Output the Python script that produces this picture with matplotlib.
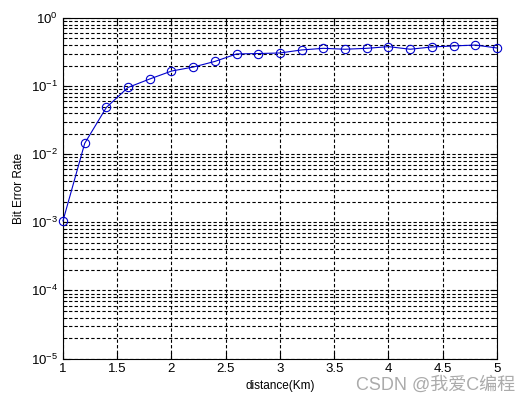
import numpy as np
import matplotlib
matplotlib.use("Agg")
import matplotlib.pyplot as plt
from matplotlib.ticker import LogLocator, FixedLocator, NullFormatter

plt.rcParams['font.family'] = ['Liberation Sans', 'Noto Sans CJK SC', 'DejaVu Sans']
plt.rcParams['mathtext.fontset'] = 'custom'
plt.rcParams['mathtext.rm'] = 'Liberation Sans'
plt.rcParams['mathtext.it'] = 'Liberation Sans'

# distance (Km) and measured bit error rate
distance = [1.0, 1.2, 1.4, 1.6, 1.8, 2.0, 2.2, 2.4, 2.6, 2.8, 3.0,
            3.2, 3.4, 3.6, 3.8, 4.0, 4.2, 4.4, 4.6, 4.8, 5.0]
ber = [1.05e-3, 0.0144, 0.0486, 0.0955, 0.127, 0.166, 0.19, 0.23, 0.296, 0.30, 0.306,
       0.339, 0.358, 0.347, 0.358, 0.379, 0.347, 0.375, 0.388, 0.40, 0.362]

x_ticks = [1, 1.5, 2, 2.5, 3, 3.5, 4, 4.5, 5]
x_tick_labels = ['1', '1.5', '2', '2.5', '3', '3.5', '4', '4.5', '5']

fig = plt.figure(figsize=(5.32, 4.04), dpi=100)
ax = fig.add_axes([0.1184, 0.1126, 0.8158, 0.843])

ax.semilogy(distance, ber, '-o', color='#0000cc', linewidth=0.8,
            markersize=6, markerfacecolor='none', markeredgewidth=0.8,
            zorder=3, clip_on=False)

ax.set_xlim(1, 5)
ax.set_ylim(1e-5, 1)
ax.xaxis.set_major_locator(FixedLocator(x_ticks))
ax.set_xticklabels(x_tick_labels)
ax.yaxis.set_major_locator(LogLocator(base=10, numticks=10))
ax.yaxis.set_minor_locator(LogLocator(base=10, subs=np.arange(2, 10), numticks=10))
ax.yaxis.set_minor_formatter(NullFormatter())

ax.grid(True, which='major', linestyle=(0, (3, 2)), color='black', linewidth=0.8)
ax.grid(True, which='minor', axis='y', linestyle=(0, (3, 2)), color='black', linewidth=0.8)

ax.tick_params(which='both', direction='in', top=True, right=True, labelsize=9.5)
ax.tick_params(which='major', length=5)
ax.tick_params(which='minor', length=3)
for s in ax.spines.values():
    s.set_linewidth(0.8)

ax.set_xlabel('distance(Km)', fontsize=8.5, labelpad=3)
ax.set_ylabel('Bit Error Rate', fontsize=8.5, labelpad=4)

fig.text(0.968, 0.047, 'CSDN @我爱C编程', fontsize=13, color='#ababab',
         ha='right', va='center')

fig.savefig('out.png', dpi=100)
